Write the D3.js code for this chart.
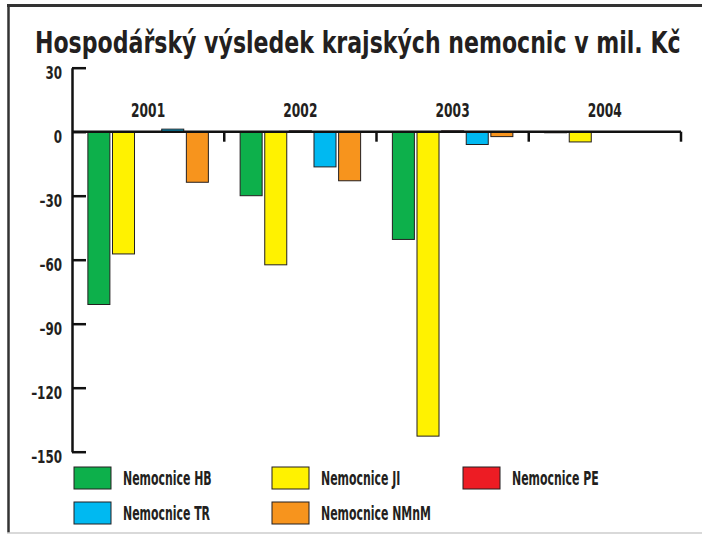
<!DOCTYPE html>
<html>
<head>
<meta charset="utf-8">
<script src="https://cdn.jsdelivr.net/npm/d3@7"></script>
<style>
  html, body { margin: 0; padding: 0; background: #fff; }
  svg { display: block; }
  text { font-family: "DejaVu Sans Condensed", "DejaVu Sans", sans-serif; font-weight: bold; fill: #231f20; }
</style>
</head>
<body>
<svg id="chart" width="702" height="534"></svg>
<script>
const title = "Hospodářský výsledek krajských nemocnic v mil. Kč";
const years = ["2001", "2002", "2003", "2004"];
const seriesNames = ["Nemocnice HB", "Nemocnice JI", "Nemocnice PE", "Nemocnice TR", "Nemocnice NMnM"];
const seriesColors = ["#0db04b", "#fff200", "#ed1c24", "#00b9f1", "#f7941d"];
const valuesHB   = [-81, -30, -50.5, -0.5];
const valuesJI   = [-57.3, -62.4, -142.7, -4.8];
const valuesPE   = [0, 0.4, 0.4, 0];
const valuesTR   = [1.2, -16.5, -6.0, 0];
const valuesNMnM = [-23.7, -23, -2.3, 0];
const yTicks = [30, 0, -30, -60, -90, -120, -150];

const seriesValues = [valuesHB, valuesJI, valuesPE, valuesTR, valuesNMnM];
const data = years.map((yr, i) => ({
  year: yr,
  vals: seriesNames.map((s, j) => ({ name: s, value: seriesValues[j][i], color: seriesColors[j] }))
}));

// horizontally condense text (the reference uses a condensed typeface)
function condense(sel, k) {
  sel.each(function () {
    const t = d3.select(this);
    const x = +t.attr("x") || 0;
    t.attr("x", x / k).attr("transform", `scale(${k},1)`);
  });
}

const svg = d3.select("#chart");

// frame
svg.append("line").attr("x1", 7).attr("x2", 702).attr("y1", 5.5).attr("y2", 5.5)
  .attr("stroke", "#333").attr("stroke-width", 3);
svg.append("line").attr("x1", 8.5).attr("x2", 8.5).attr("y1", 4).attr("y2", 533)
  .attr("stroke", "#333").attr("stroke-width", 2.5);
svg.append("line").attr("x1", 7).attr("x2", 702).attr("y1", 533).attr("y2", 533)
  .attr("stroke", "#ccc").attr("stroke-width", 1.5);

// title
const tt = svg.append("text").attr("x", 35).attr("y", 53)
  .style("font-size", "31px")
  .text(title);
const tLen = tt.node().getComputedTextLength();
condense(tt, 646 / tLen);

const y = d3.scaleLinear().domain([-150, 30]).range([451.7, 67.7]);
const x0 = d3.scaleBand().domain(years).range([72, 681]).padding(0);
const x1 = d3.scaleBand().domain(seriesNames).range([0, x0.bandwidth()])
  .paddingInner(0.106).paddingOuter(0.645);

// bars
const groups = svg.append("g").selectAll("g").data(data).join("g")
  .attr("transform", d => `translate(${x0(d.year)},0)`);
groups.selectAll("rect").data(d => d.vals).join("rect")
  .attr("x", d => x1(d.name))
  .attr("width", x1.bandwidth())
  .attr("y", d => y(Math.max(0, d.value)))
  .attr("height", d => Math.abs(y(d.value) - y(0)))
  .attr("fill", d => d.color)
  .attr("stroke", "#231f20").attr("stroke-width", 1);

// y axis
const fmt = v => (v < 0 ? "–" + Math.abs(v) : String(v));
const yAxis = d3.axisLeft(y).tickValues(yTicks).tickFormat(fmt)
  .tickSizeInner(-14).tickSizeOuter(0).tickPadding(10);
const gy = svg.append("g").attr("transform", "translate(72,0)").call(yAxis);
gy.attr("font-family", null).attr("font-size", null);
gy.select(".domain").attr("stroke", "#111").attr("stroke-width", 2.5);
gy.selectAll(".tick line").attr("stroke", "#111").attr("stroke-width", 2.5);
const yLabels = gy.selectAll(".tick text").attr("dy", "0.66em")
  .style("font-size", "17px").attr("fill", "#231f20");
condense(yLabels, 0.78);

// x axis line at zero
const gx = svg.append("g");
gx.append("line").attr("x1", x0.range()[0]).attr("x2", x0.range()[1])
  .attr("y1", y(0)).attr("y2", y(0)).attr("stroke", "#111").attr("stroke-width", 2.5);
gx.selectAll("line.tk").data(years).join("line").attr("class", "tk")
  .attr("x1", d => x0(d) + x0.bandwidth()).attr("x2", d => x0(d) + x0.bandwidth())
  .attr("y1", y(0)).attr("y2", y(0) + 10)
  .attr("stroke", "#111").attr("stroke-width", 2.5);

// year labels
const yearLabels = svg.append("g").selectAll("text").data(years).join("text")
  .attr("x", d => x0(d) + x0.bandwidth() / 2)
  .attr("y", 117)
  .attr("text-anchor", "middle")
  .style("font-size", "20px")
  .text(d => d);
condense(yearLabels, 0.68);

// legend
const legendCols = [74, 272, 463];
const legendRows = [467, 502];
const leg = svg.append("g").selectAll("g").data(seriesNames).join("g")
  .attr("transform", (d, i) => `translate(${legendCols[i % 3]},${legendRows[Math.floor(i / 3)]})`);
leg.append("rect").attr("width", 37).attr("height", 22)
  .attr("fill", (d, i) => seriesColors[i]).attr("stroke", "#231f20").attr("stroke-width", 1);
const legText = leg.append("text").attr("x", 49).attr("y", 18)
  .style("font-size", "19px")
  .text(d => d);
condense(legText, 0.64);
</script>
</body>
</html>
